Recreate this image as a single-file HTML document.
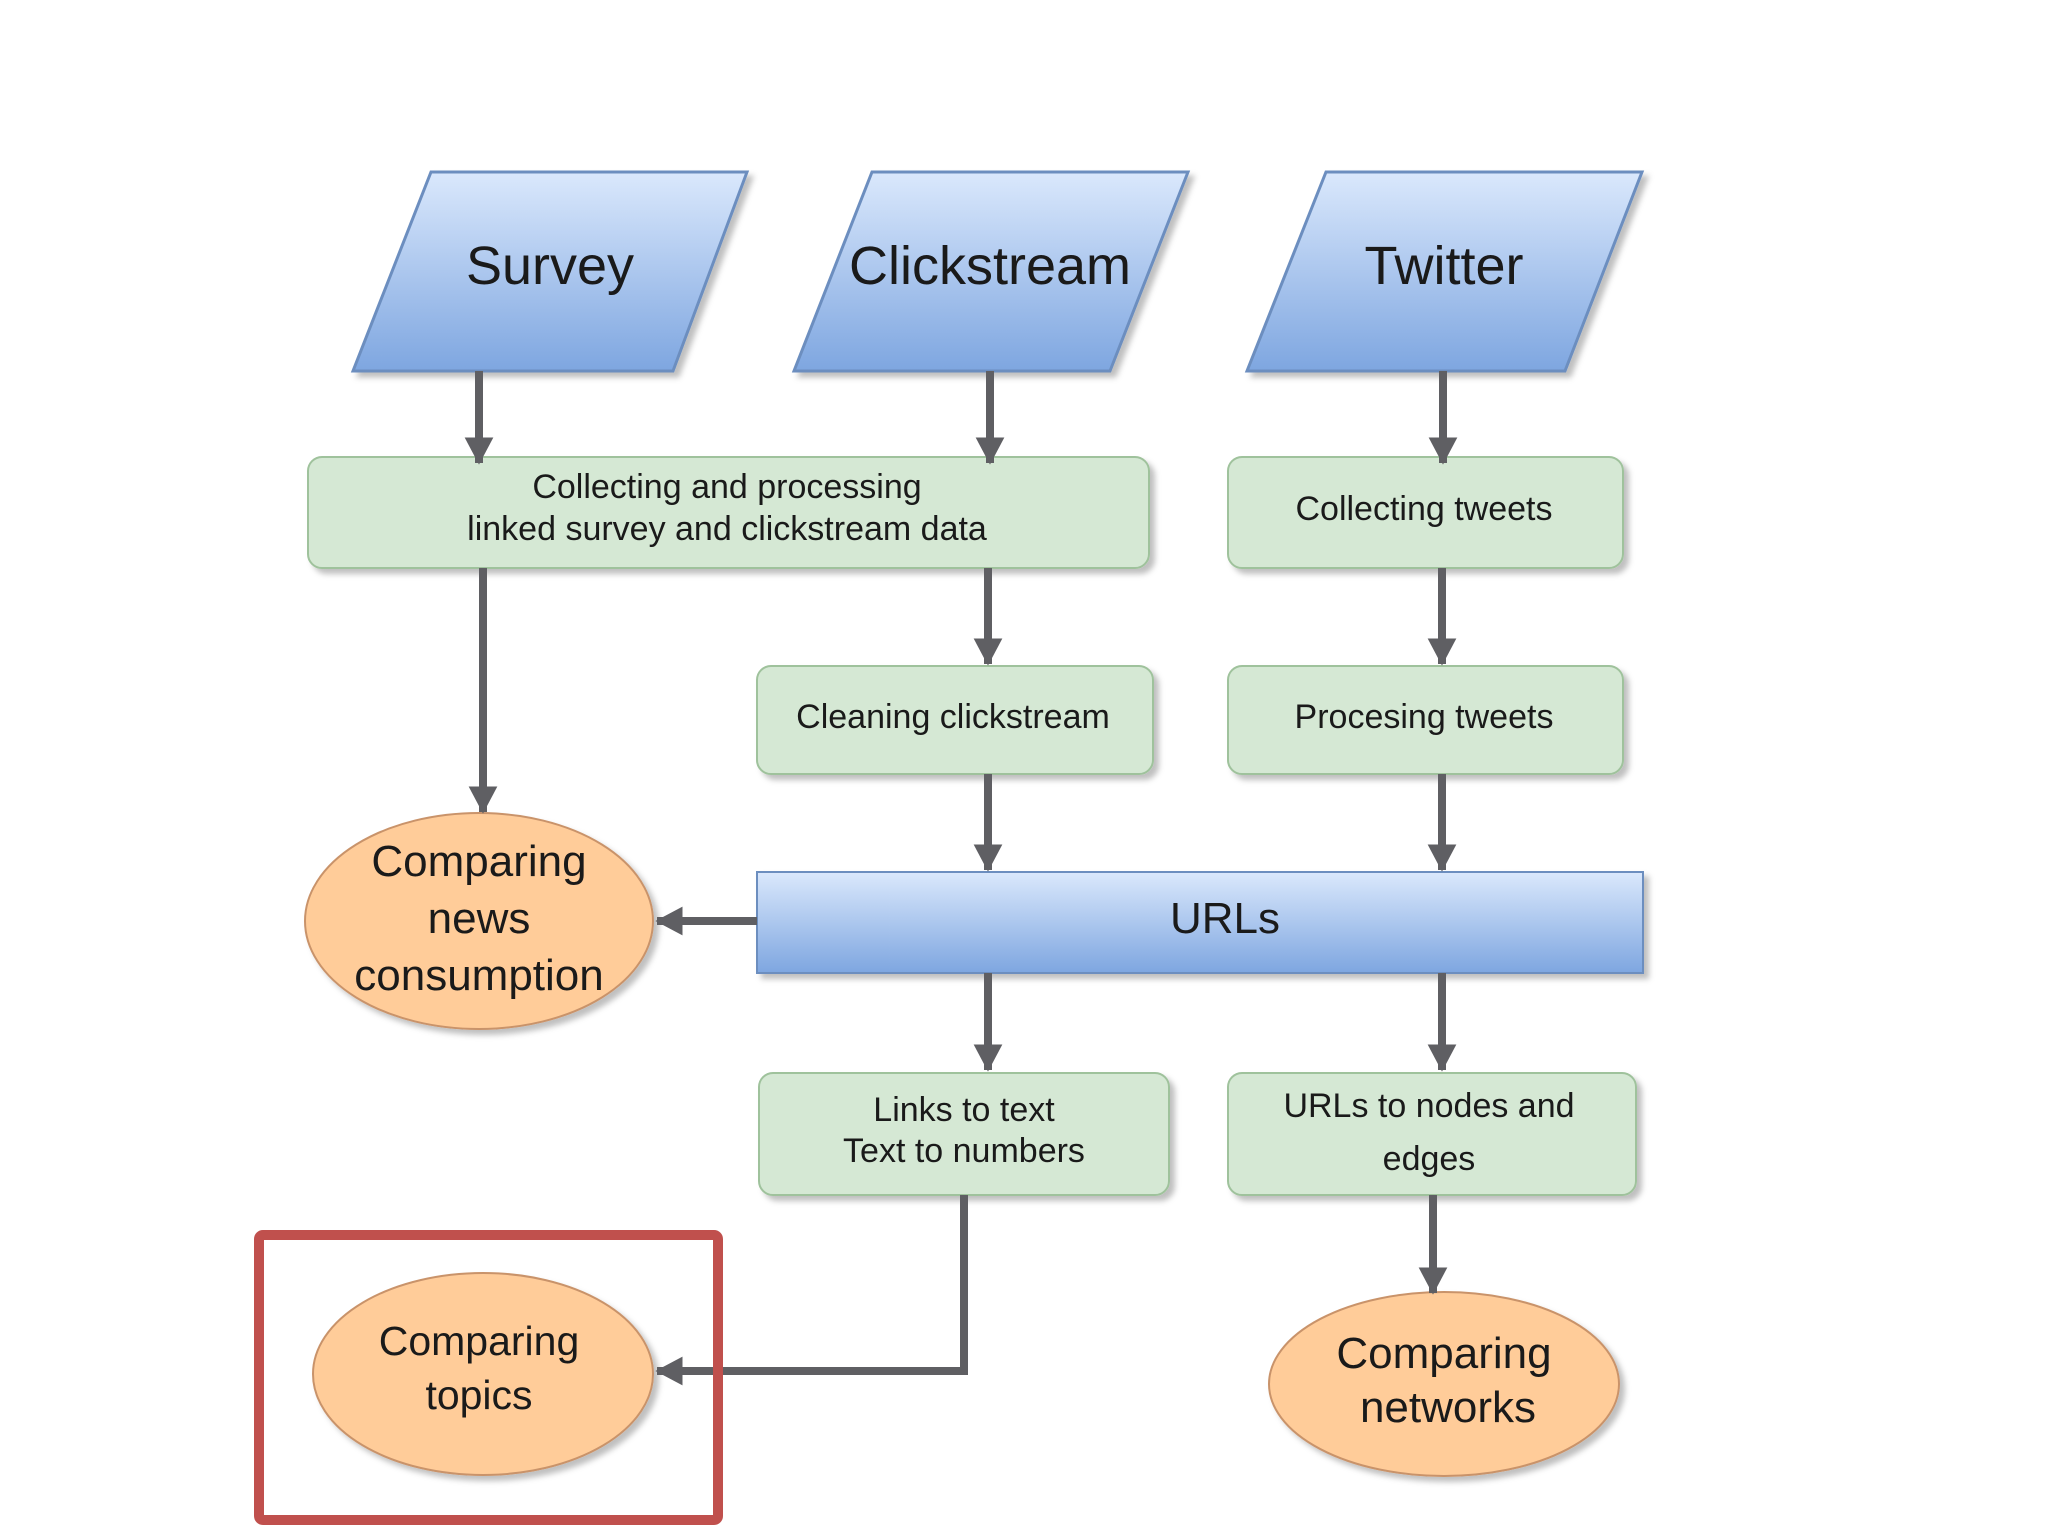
<!DOCTYPE html>
<html><head><meta charset="utf-8"><style>
html,body{margin:0;padding:0;background:#fff;}
svg{display:block;}
text{font-family:"Liberation Sans",sans-serif;fill:#1a1a1a;text-anchor:middle;}
</style></head><body>
<svg width="2048" height="1536" viewBox="0 0 2048 1536" xmlns="http://www.w3.org/2000/svg">
<defs>
<linearGradient id="blue" x1="0" y1="0" x2="0" y2="1">
<stop offset="0" stop-color="#dae8fc"/><stop offset="1" stop-color="#7ea6e0"/></linearGradient>
<linearGradient id="blue2" x1="0" y1="0" x2="0" y2="1">
<stop offset="0" stop-color="#dae8fc"/><stop offset="1" stop-color="#7ea6e0"/></linearGradient>
<filter id="sh" x="-10%" y="-10%" width="130%" height="130%">
<feDropShadow dx="5" dy="5" stdDeviation="3" flood-color="#000" flood-opacity="0.25"/></filter>
<marker id="ar" markerWidth="4" markerHeight="4" refX="3.2" refY="2" orient="auto" markerUnits="strokeWidth">
<path d="M0,0.2 L3.4,2 L0,3.8 Z" fill="#5f5f63"/></marker>
</defs>

<!-- parallelograms -->
<g filter="url(#sh)" stroke="#6c8ebf" stroke-width="3">
<polygon points="431,172 747,172 673,371 353,371" fill="url(#blue)"/>
<polygon points="872,172 1188,172 1110,371 794,371" fill="url(#blue)"/>
<polygon points="1326,172 1642,172 1565,371 1247,371" fill="url(#blue)"/>
</g>
<text x="550" y="284" font-size="54">Survey</text>
<text x="990" y="284" font-size="54">Clickstream</text>
<text x="1444" y="284" font-size="54">Twitter</text>

<!-- green boxes -->
<g filter="url(#sh)" fill="#d5e8d4" stroke="#9fc29c" stroke-width="2">
<rect x="308" y="457" width="841" height="111" rx="14"/>
<rect x="1228" y="457" width="395" height="111" rx="14"/>
<rect x="757" y="666" width="396" height="108" rx="14"/>
<rect x="1228" y="666" width="395" height="108" rx="14"/>
<rect x="759" y="1073" width="410" height="122" rx="14"/>
<rect x="1228" y="1073" width="408" height="122" rx="14"/>
</g>
<g font-size="34">
<text x="727" y="498">Collecting and processing</text>
<text x="727" y="540">linked survey and clickstream data</text>
<text x="1424" y="520">Collecting tweets</text>
<text x="953" y="728">Cleaning clickstream</text>
<text x="1424" y="728">Procesing tweets</text>
<text x="964" y="1121">Links to text</text>
<text x="964" y="1162">Text to numbers</text>
<text x="1429" y="1117">URLs to nodes and</text>
<text x="1429" y="1170">edges</text>
</g>

<!-- URLs bar -->
<rect x="757" y="872" width="886" height="101" fill="url(#blue2)" stroke="#6c8ebf" stroke-width="2" filter="url(#sh)"/>
<text x="1225" y="933" font-size="44">URLs</text>

<!-- ellipses -->
<g filter="url(#sh)" fill="#ffcc99" stroke="#c9936a" stroke-width="2">
<ellipse cx="479" cy="921" rx="174" ry="108"/>
<ellipse cx="483" cy="1374" rx="170" ry="101"/>
<ellipse cx="1444" cy="1384" rx="175" ry="92"/>
</g>
<g font-size="44">
<text x="479" y="876">Comparing</text>
<text x="479" y="933">news</text>
<text x="479" y="990">consumption</text>
<text x="1444" y="1368">Comparing</text>
<text x="1448" y="1422">networks</text>
</g>
<g font-size="41">
<text x="479" y="1355">Comparing</text>
<text x="479" y="1409">topics</text>
</g>

<!-- connectors -->
<g stroke="#5f5f63" stroke-width="8" fill="none" marker-end="url(#ar)">
<line x1="479" y1="371" x2="479" y2="463"/>
<line x1="990" y1="371" x2="990" y2="463"/>
<line x1="1443" y1="371" x2="1443" y2="463"/>
<line x1="988" y1="568" x2="988" y2="664"/>
<line x1="1442" y1="568" x2="1442" y2="664"/>
<line x1="483" y1="568" x2="483" y2="812"/>
<line x1="988" y1="774" x2="988" y2="870"/>
<line x1="1442" y1="774" x2="1442" y2="870"/>
<line x1="757" y1="921" x2="657" y2="921"/>
<line x1="988" y1="973" x2="988" y2="1070"/>
<line x1="1442" y1="973" x2="1442" y2="1070"/>
<polyline points="964,1195 964,1371 657,1371"/>
<line x1="1433" y1="1195" x2="1433" y2="1293"/>
</g>

<!-- red highlight -->
<rect x="259" y="1235" width="459" height="285" fill="none" stroke="#c0504d" stroke-width="10" rx="4"/>
</svg>
</body></html>
